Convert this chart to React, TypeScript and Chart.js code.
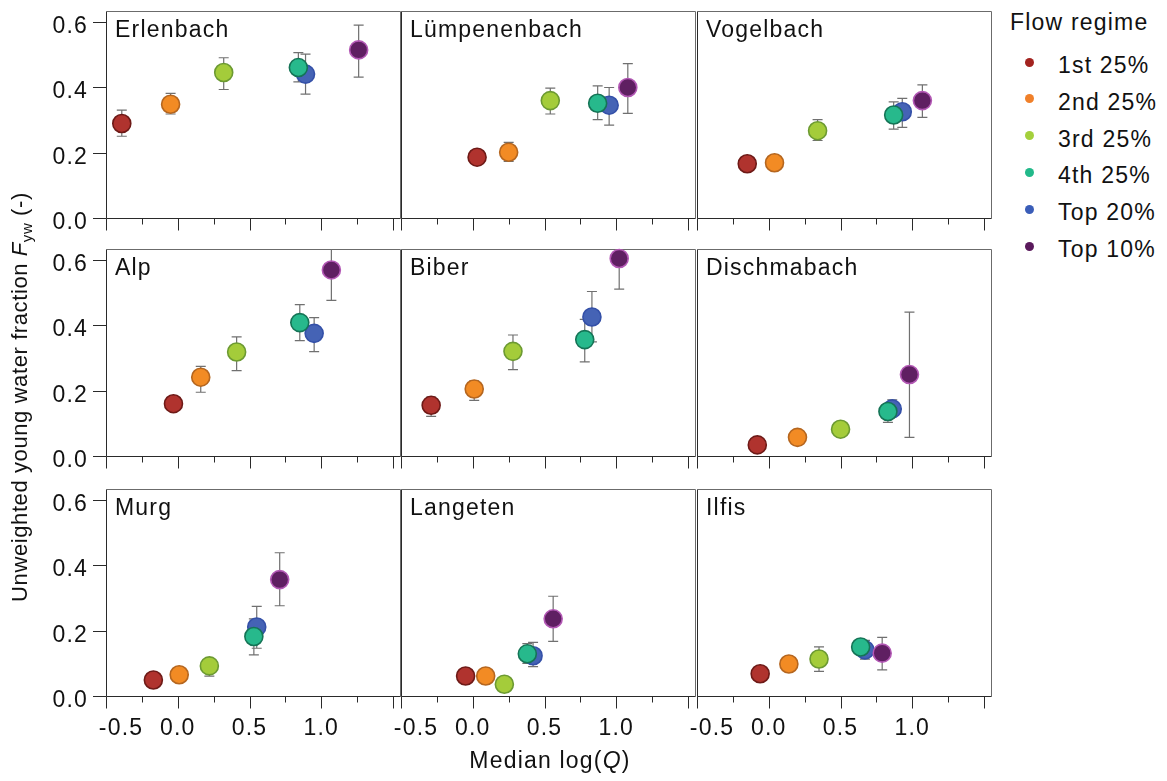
import React, { useEffect, useRef } from "react";
import Chart from "chart.js/auto";

// flow regimes, drawn in this order of legend
const regimes = ["1st 25%", "2nd 25%", "3rd 25%", "4th 25%", "Top 20%", "Top 10%"];
const regimeFill = ["#b0332e", "#f28b24", "#a4cc3a", "#27b98c", "#4563b5", "#5f1f62"];
const regimeEdge = ["#6e1a17", "#b5661f", "#6c9a32", "#157456", "#3450a8", "#b358b5"];
const legendDot = ["#a3231f", "#f0802a", "#a4d03c", "#22b98a", "#3a5db8", "#5a1a5c"];
const drawOrder = [6, 5, 4, 2, 3, 1]; // lower = drawn later (on top)

const xMajorTicks = [-0.5, 0, 0.5, 1, 1.5];
const xMinorTicks = [-0.25, 0.25, 0.75, 1.25];
const xTickValues = [-0.5, 0, 0.5, 1];
const xTickLabels = ["-0.5", "0.0", "0.5", "1.0"];
const yTickValues = [0, 0.2, 0.4, 0.6];
const yTickLabels = ["0.0", "0.2", "0.4", "0.6"];

// median log(Q), Fyw, lower / upper error bound per regime
const erlenbachLogQ = [-0.39, -0.05, 0.32, 0.84, 0.89, 1.26];
const erlenbachFyw = [0.289, 0.348, 0.445, 0.46, 0.44, 0.514];
const erlenbachLow = [0.25, 0.318, 0.393, 0.416, 0.379, 0.431];
const erlenbachHigh = [0.33, 0.381, 0.49, 0.506, 0.501, 0.59];

const lumpenenbachLogQ = [0.03, 0.25, 0.54, 0.87, 0.95, 1.08];
const lumpenenbachFyw = [0.186, 0.201, 0.359, 0.351, 0.345, 0.399];
const lumpenenbachLow = [0.17, 0.173, 0.318, 0.301, 0.284, 0.32];
const lumpenenbachHigh = [0.2, 0.231, 0.397, 0.404, 0.399, 0.472];

const vogelbachLogQ = [-0.15, 0.04, 0.34, 0.87, 0.93, 1.07];
const vogelbachFyw = [0.166, 0.169, 0.267, 0.315, 0.325, 0.359];
const vogelbachLow = [0.15, 0.155, 0.237, 0.272, 0.277, 0.308];
const vogelbachHigh = [0.18, 0.185, 0.301, 0.355, 0.366, 0.407];

const alpLogQ = [-0.03, 0.16, 0.41, 0.85, 0.95, 1.07];
const alpFyw = [0.16, 0.241, 0.318, 0.408, 0.375, 0.569];
const alpLow = [0.14, 0.195, 0.261, 0.353, 0.319, 0.476];
const alpHigh = [0.18, 0.274, 0.364, 0.463, 0.423, 0.665];

const biberLogQ = [-0.29, 0.01, 0.28, 0.78, 0.83, 1.02];
const biberFyw = [0.155, 0.205, 0.32, 0.356, 0.425, 0.604];
const biberLow = [0.121, 0.17, 0.264, 0.288, 0.349, 0.51];
const biberHigh = [0.18, 0.23, 0.37, 0.418, 0.503, 0.7];

const dischmabachLogQ = [-0.08, 0.2, 0.5, 0.83, 0.86, 0.98];
const dischmabachFyw = [0.034, 0.057, 0.082, 0.136, 0.144, 0.249];
const dischmabachLow = [0.02, 0.045, 0.07, 0.103, 0.12, 0.057];
const dischmabachHigh = [0.045, 0.07, 0.095, 0.16, 0.172, 0.44];

const murgLogQ = [-0.17, 0.01, 0.22, 0.53, 0.55, 0.71];
const murgFyw = [0.049, 0.065, 0.092, 0.182, 0.211, 0.356];
const murgLow = [0.035, 0.05, 0.061, 0.126, 0.146, 0.276];
const murgHigh = [0.065, 0.08, 0.11, 0.236, 0.274, 0.438];

const langetenLogQ = [-0.05, 0.09, 0.22, 0.38, 0.42, 0.56];
const langetenFyw = [0.061, 0.061, 0.036, 0.129, 0.123, 0.236];
const langetenLow = [0.05, 0.05, 0.025, 0.1, 0.09, 0.167];
const langetenHigh = [0.075, 0.075, 0.05, 0.16, 0.164, 0.305];

const ilfisLogQ = [-0.06, 0.14, 0.35, 0.64, 0.67, 0.79];
const ilfisFyw = [0.068, 0.098, 0.113, 0.15, 0.141, 0.131];
const ilfisLow = [0.055, 0.085, 0.075, 0.13, 0.113, 0.08];
const ilfisHigh = [0.08, 0.11, 0.15, 0.17, 0.17, 0.179];

const panels = [
  { name: "Erlenbach", logQ: erlenbachLogQ, fyw: erlenbachFyw, low: erlenbachLow, high: erlenbachHigh },
  { name: "Lümpenenbach", logQ: lumpenenbachLogQ, fyw: lumpenenbachFyw, low: lumpenenbachLow, high: lumpenenbachHigh },
  { name: "Vogelbach", logQ: vogelbachLogQ, fyw: vogelbachFyw, low: vogelbachLow, high: vogelbachHigh },
  { name: "Alp", logQ: alpLogQ, fyw: alpFyw, low: alpLow, high: alpHigh },
  { name: "Biber", logQ: biberLogQ, fyw: biberFyw, low: biberLow, high: biberHigh },
  { name: "Dischmabach", logQ: dischmabachLogQ, fyw: dischmabachFyw, low: dischmabachLow, high: dischmabachHigh },
  { name: "Murg", logQ: murgLogQ, fyw: murgFyw, low: murgLow, high: murgHigh },
  { name: "Langeten", logQ: langetenLogQ, fyw: langetenFyw, low: langetenLow, high: langetenHigh },
  { name: "Ilfis", logQ: ilfisLogQ, fyw: ilfisFyw, low: ilfisLow, high: ilfisHigh },
];

const colLeft = [106, 401, 697];
const rowTop = [11, 249, 489];
const plotW = 295;
const plotH = 207;
const PAD = { left: 105, top: 12, right: 12, bottom: 50 };
const FONT_FAMILY = '"Liberation Sans", Arial, Helvetica, sans-serif';
const FONT = `23px ${FONT_FAMILY}`;

const crisp = (v: number) => Math.round(v) + 0.5;

const panelDecor = {
  id: "panelDecor",
  beforeDatasetsDraw(chart: any, _args: any, opts: any) {
    const { ctx, chartArea: a, scales } = chart;
    const l = crisp(a.left), r = crisp(a.right - 1), t = crisp(a.top), b = crisp(a.bottom);
    ctx.save();
    ctx.lineWidth = 1;
    // top and right edges lighter
    ctx.strokeStyle = "#6b6b6b";
    ctx.beginPath();
    ctx.moveTo(l, t);
    ctx.lineTo(r, t);
    ctx.lineTo(r, b);
    ctx.stroke();
    ctx.strokeStyle = "#2a2a2a";
    ctx.beginPath();
    ctx.moveTo(l, t);
    ctx.lineTo(l, b);
    ctx.lineTo(r, b);
    ctx.stroke();

    // error bars, under the markers
    ctx.beginPath();
    ctx.rect(a.left, a.top, a.right - a.left, a.bottom - a.top);
    ctx.clip();
    ctx.strokeStyle = "#707070";
    ctx.lineWidth = 1.2;
    chart.data.datasets.forEach((ds: any) => {
      ds.data.forEach((p: any) => {
        const px = scales.x.getPixelForValue(p.x);
        const y0 = scales.y.getPixelForValue(p.low);
        const y1 = scales.y.getPixelForValue(p.high);
        ctx.beginPath();
        ctx.moveTo(px, y0);
        ctx.lineTo(px, y1);
        ctx.moveTo(px - 5, y0);
        ctx.lineTo(px + 5, y0);
        ctx.moveTo(px - 5, y1);
        ctx.lineTo(px + 5, y1);
        ctx.stroke();
      });
    });
    ctx.restore();
  },
  afterDraw(chart: any, _args: any, opts: any) {
    const { ctx, chartArea: a, scales } = chart;
    const b = crisp(a.bottom);
    ctx.save();
    ctx.strokeStyle = "#2a2a2a";
    ctx.lineWidth = 1;
    ctx.beginPath();
    xMajorTicks.forEach((v) => {
      const px = crisp(scales.x.getPixelForValue(v));
      ctx.moveTo(px, b);
      ctx.lineTo(px, b + 12);
    });
    xMinorTicks.forEach((v) => {
      const px = crisp(scales.x.getPixelForValue(v));
      ctx.moveTo(px, b);
      ctx.lineTo(px, b + 6);
    });
    if (opts.col === 0) {
      yTickValues.forEach((v) => {
        const py = crisp(scales.y.getPixelForValue(v));
        ctx.moveTo(a.left, py);
        ctx.lineTo(a.left - 13, py);
      });
    }
    ctx.stroke();

    ctx.fillStyle = "#111";
    ctx.font = FONT;
    (ctx as any).letterSpacing = "1.2px";
    ctx.textBaseline = "alphabetic";
    if (opts.col === 0) {
      ctx.textAlign = "right";
      yTickValues.forEach((v, i) => {
        const py = scales.y.getPixelForValue(v);
        ctx.fillText(yTickLabels[i], a.left - 18, py + 11);
      });
    }
    if (opts.row === 2) {
      ctx.textAlign = "center";
      xTickValues.forEach((v, i) => {
        const shift = v === -0.5 ? 15 : 0;
        const px = scales.x.getPixelForValue(v) + shift;
        ctx.fillText(xTickLabels[i], px, a.bottom + 39);
      });
    }
    ctx.textAlign = "left";
    ctx.fillText(opts.title, a.left + 9, a.top + 26);
    ctx.restore();
  },
};

type PanelProps = {
  index: number;
};

const Panel: React.FC<PanelProps> = ({ index }) => {
  const canvasRef = useRef<HTMLCanvasElement>(null);
  const chartRef = useRef<Chart>();
  const row = Math.floor(index / 3);
  const col = index % 3;
  const p = panels[index];

  useEffect(() => {
    const canvas = canvasRef.current;
    if (!canvas) return;

    const datasets = regimes.map((label, i) => ({
      label,
      data: [{ x: p.logQ[i], y: p.fyw[i], low: p.low[i], high: p.high[i] }],
      pointRadius: 9,
      pointHoverRadius: 9,
      pointBorderWidth: 1.6,
      pointBackgroundColor: regimeFill[i],
      pointBorderColor: regimeEdge[i],
      showLine: false,
      clip: false as any,
      order: drawOrder[i],
    }));

    chartRef.current = new Chart(canvas, {
      type: "scatter",
      data: { datasets },
      options: {
        animation: false,
        responsive: false,
        events: [],
        layout: { padding: PAD },
        scales: {
          x: { type: "linear", min: -0.5, max: 1.555, display: false },
          y: { type: "linear", min: 0, max: 0.633, display: false },
        },
        plugins: {
          legend: { display: false },
          tooltip: { enabled: false },
          panelDecor: { title: p.name, row, col },
        } as any,
      },
      plugins: [panelDecor],
    });

    return () => {
      if (chartRef.current) chartRef.current.destroy();
    };
  }, []);

  return (
    <canvas
      ref={canvasRef}
      width={plotW + PAD.left + PAD.right}
      height={plotH + PAD.top + PAD.bottom}
      style={{
        position: "absolute",
        left: colLeft[col] - PAD.left,
        top: rowTop[row] - PAD.top,
      }}
    />
  );
};

const App: React.FC = () => {
  return (
    <div
      style={{
        position: "absolute",
        left: 0,
        top: 0,
        width: 1167,
        height: 781,
        background: "#fff",
        fontFamily: FONT_FAMILY,
        color: "#111",
        letterSpacing: "1.2px",
        overflow: "hidden",
      }}
    >
      {panels.map((_, i) => (
        <Panel key={i} index={i} />
      ))}

      {/* y axis title */}
      <div
        style={{
          position: "absolute",
          left: 20 - 260,
          top: 397 - 13,
          width: 520,
          height: 26,
          lineHeight: "26px",
          fontSize: 22,
          textAlign: "center",
          whiteSpace: "nowrap",
          transform: "rotate(-90deg)",
          letterSpacing: "0.6px",
        }}
      >
        Unweighted young water fraction <i>F</i>
        <span style={{ fontSize: 15, position: "relative", top: 5 }}>yw</span> (-)
      </div>

      {/* x axis title */}
      <div
        style={{
          position: "absolute",
          left: 550 - 150,
          top: 747,
          width: 300,
          lineHeight: "26px",
          fontSize: 23,
          textAlign: "center",
          whiteSpace: "nowrap",
        }}
      >
        Median log(<i>Q</i>)
      </div>

      {/* legend */}
      <div
        style={{
          position: "absolute",
          left: 1010,
          top: 9,
          lineHeight: "26px",
          fontSize: 23,
          whiteSpace: "nowrap",
        }}
      >
        Flow regime
      </div>
      {regimes.map((label, i) => (
        <div key={label}>
          <span
            style={{
              position: "absolute",
              left: 1029 - 4.5,
              top: 62 + 36.8 * i - 4.5,
              width: 9,
              height: 9,
              borderRadius: "50%",
              background: legendDot[i],
            }}
          />
          <div
            style={{
              position: "absolute",
              left: 1058,
              top: 52 + 36.8 * i,
              lineHeight: "26px",
              fontSize: 23,
              whiteSpace: "nowrap",
            }}
          >
            {label}
          </div>
        </div>
      ))}
    </div>
  );
};

export default App;
